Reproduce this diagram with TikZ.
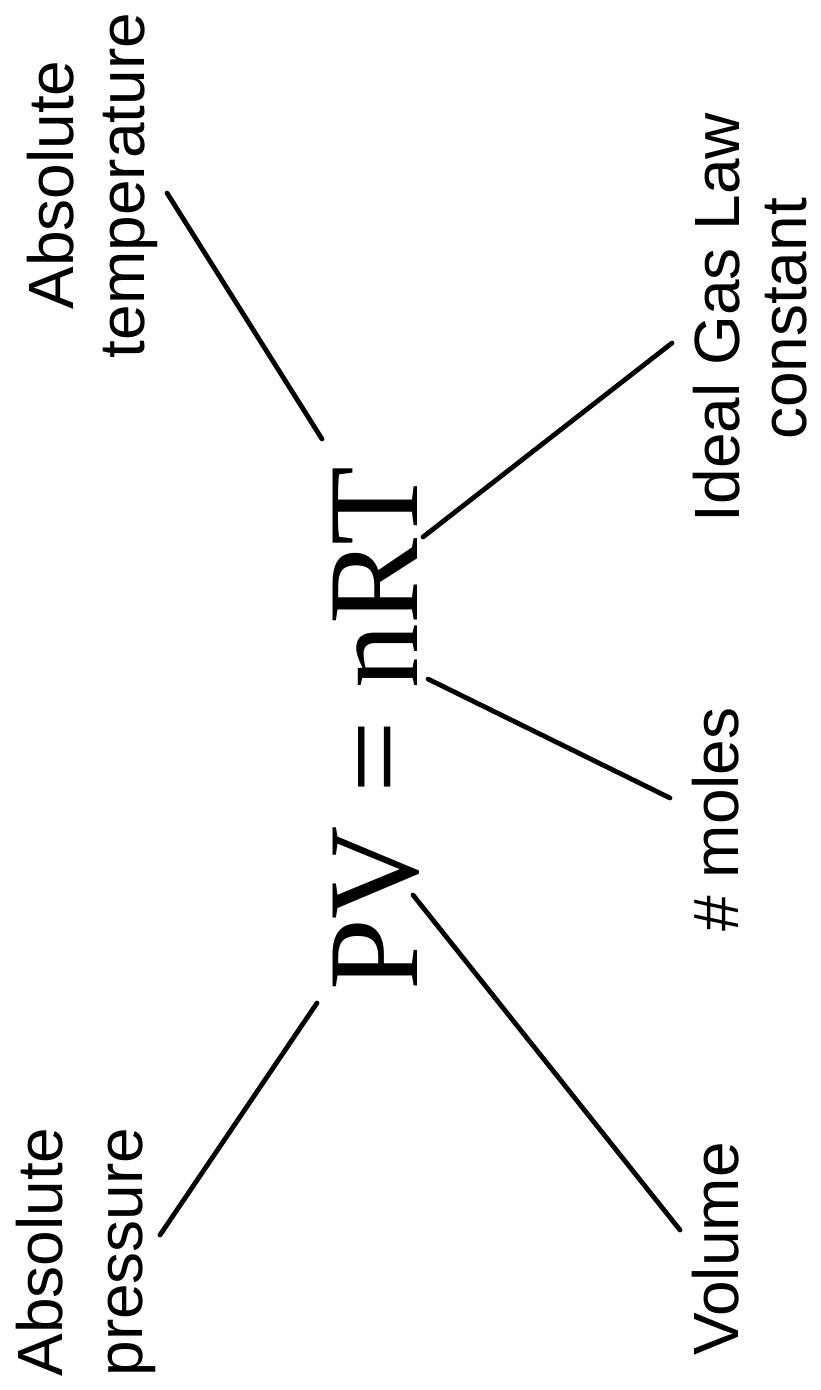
\documentclass[tikz,border=0pt]{standalone}
\usepackage{fontspec}
\setmainfont{Liberation Sans}
\newfontfamily\formulafont{Liberation Serif}
\begin{document}
\begin{tikzpicture}[x=1pt,y=-1pt,
  lab/.style={rotate=90,anchor=base,inner sep=0pt,font=\fontsize{64}{70}\selectfont},
  eq/.style={rotate=90,anchor=base,inner sep=0pt,font=\formulafont\fontsize{129}{140}\selectfont},
  conn/.style={line width=4.8pt,line cap=round}]
\path[use as bounding box] (0,0) rectangle (821,1390);
% formula
\node[eq] (eq) at (417,729) {PV = nRT};
% labels
\node[lab] (tempA) at (73,185) {Absolute};
\node[lab] (tempB) at (144,185.5) {temperature};
\node[lab] (presA) at (62,1252) {Absolute};
\node[lab] (presB) at (142,1252) {pressure};
\node[lab] (vol) at (738,1249) {Volume};
\node[lab] (mol) at (738,819.5) {\# moles};
\node[lab] (gasA) at (739,317.5) {Ideal Gas Law};
\node[lab] (gasB) at (806,319) {constant};
% connector end points
\coordinate (tT) at (322,439);  \coordinate (tL) at (167,193);
\coordinate (rT) at (423,537);  \coordinate (rL) at (672,343);
\coordinate (nT) at (428,679);  \coordinate (nL) at (670,798);
\coordinate (vT) at (413,895);  \coordinate (vL) at (680,1230);
\coordinate (pT) at (317,1003); \coordinate (pL) at (160,1235);
\draw[conn] (tT) -- (tL);
\draw[conn] (rT) -- (rL);
\draw[conn] (nT) -- (nL);
\draw[conn] (vT) -- (vL);
\draw[conn] (pT) -- (pL);
\end{tikzpicture}
\end{document}
